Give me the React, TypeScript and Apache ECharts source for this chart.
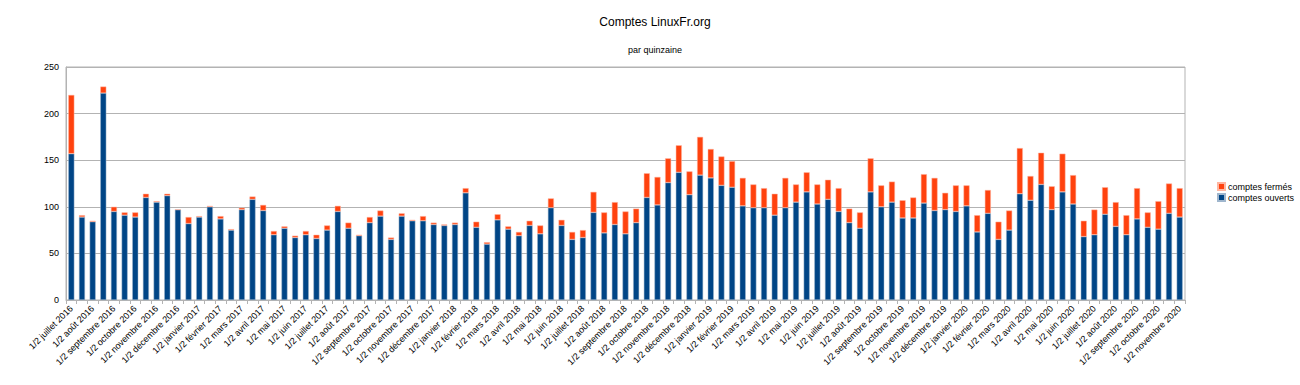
import React, { useEffect, useRef } from "react";
import * as echarts from "echarts";

const monthLabels: string[] = [
  "juillet 2016", "août 2016", "septembre 2016", "octobre 2016", "novembre 2016", "décembre 2016",
  "janvier 2017", "février 2017", "mars 2017", "avril 2017", "mai 2017", "juin 2017",
  "juillet 2017", "août 2017", "septembre 2017", "octobre 2017", "novembre 2017", "décembre 2017",
  "janvier 2018", "février 2018", "mars 2018", "avril 2018", "mai 2018", "juin 2018",
  "juillet 2018", "août 2018", "septembre 2018", "octobre 2018", "novembre 2018", "décembre 2018",
  "janvier 2019", "février 2019", "mars 2019", "avril 2019", "mai 2019", "juin 2019",
  "juillet 2019", "août 2019", "septembre 2019", "octobre 2019", "novembre 2019", "décembre 2019",
  "janvier 2020", "février 2020", "mars 2020", "avril 2020", "mai 2020", "juin 2020",
  "juillet 2020", "août 2020", "septembre 2020", "octobre 2020", "novembre 2020",
];

const categories: string[] = [];
monthLabels.forEach((m, i) => {
  categories.push("1/2 " + m);
  if (i < monthLabels.length - 1) categories.push("2/2 " + m);
});

const comptesOuverts: number[] = [
  157, 89, 84, 222, 95, 91, 89, 110, 105, 112, 97, 82, 89, 100, 87, 75, 97, 108, 96, 70,
  77, 67, 70, 66, 75, 95, 77, 69, 83, 90, 65, 90, 85, 85, 81, 80, 81, 115, 78, 60,
  86, 76, 69, 80, 71, 99, 80, 65, 67, 94, 72, 81, 71, 83, 110, 102, 126, 137, 113, 134,
  131, 123, 121, 101, 99, 99, 91, 99, 105, 116, 103, 108, 95, 83, 77, 116, 100, 105, 88, 88,
  104, 96, 97, 95, 101, 73, 93, 65, 75, 114, 107, 124, 97, 116, 103, 68, 70, 92, 79, 70,
  87, 78, 76, 93, 89,
];

const comptesFermes: number[] = [
  63, 2, 1, 7, 5, 3, 5, 4, 1, 2, 0, 7, 1, 1, 3, 1, 2, 3, 6, 4,
  2, 2, 4, 4, 5, 6, 6, 1, 6, 6, 2, 3, 1, 5, 2, 1, 2, 5, 6, 2,
  6, 3, 4, 5, 9, 10, 6, 8, 8, 22, 22, 24, 24, 15, 26, 30, 26, 29, 25, 41,
  31, 31, 28, 30, 25, 21, 23, 32, 19, 21, 21, 21, 25, 15, 17, 36, 23, 22, 19, 22,
  31, 35, 18, 28, 22, 18, 25, 19, 21, 49, 26, 34, 25, 41, 31, 17, 27, 29, 26, 21,
  33, 16, 30, 32, 31,
];

const FONT = "'Liberation Sans', Arial, sans-serif";

export default function App() {
  const ref = useRef<HTMLDivElement>(null);
  useEffect(() => {
    document.body.style.margin = "0";
    const chart = echarts.init(ref.current!, null, { renderer: "svg" });
    chart.setOption({
      animation: false,
      backgroundColor: "#ffffff",
      textStyle: { fontFamily: FONT },
      title: [
        {
          text: "Comptes LinuxFr.org",
          left: 650,
          top: 11,
          textAlign: "center",
          textStyle: { fontFamily: FONT, fontSize: 12, fontWeight: "normal", color: "#000" },
        },
        {
          text: "par quinzaine",
          left: 650,
          top: 40,
          textAlign: "center",
          textStyle: { fontFamily: FONT, fontSize: 9, fontWeight: "normal", color: "#000" },
        },
      ],
      legend: {
        orient: "vertical",
        left: 1212,
        top: 177,
        itemWidth: 7,
        itemHeight: 7,
        itemGap: 2,
        icon: "rect",
        data: ["comptes fermés", "comptes ouverts"],
        textStyle: { fontFamily: FONT, fontSize: 9, color: "#000", padding: [0, 0, 0, -2] },
      },
      grid: {
        left: 66,
        right: 115,
        top: 67,
        bottom: 85,
        show: true,
        borderColor: "#b3b3b3",
        borderWidth: 1,
      },
      xAxis: {
        type: "category",
        data: categories,
        axisLine: { lineStyle: { color: "#b3b3b3" } },
        axisTick: { show: true, interval: 0, length: 4, lineStyle: { color: "#b3b3b3" } },
        axisLabel: {
          interval: 1,
          rotate: 45,
          fontFamily: FONT,
          fontSize: 9,
          color: "#000",
          margin: 7,
        },
      },
      yAxis: {
        type: "value",
        min: 0,
        max: 250,
        interval: 50,
        axisLine: { show: true, lineStyle: { color: "#b3b3b3" } },
        axisTick: { show: false },
        splitLine: { lineStyle: { color: "#b3b3b3" } },
        axisLabel: { fontFamily: FONT, fontSize: 9, color: "#000", margin: 7 },
      },
      series: [
        {
          name: "comptes ouverts",
          type: "bar",
          stack: "total",
          data: comptesOuverts,
          barWidth: 6,
          itemStyle: { color: "#004586", borderColor: "#9fb6cd", borderWidth: 0.5 },
        },
        {
          name: "comptes fermés",
          type: "bar",
          stack: "total",
          data: comptesFermes,
          barWidth: 6,
          itemStyle: { color: "#ff420e", borderColor: "#ffb5a0", borderWidth: 0.5 },
        },
      ],
    });
    return () => chart.dispose();
  }, []);
  return <div ref={ref} style={{ width: 1300, height: 385 }} />;
}
